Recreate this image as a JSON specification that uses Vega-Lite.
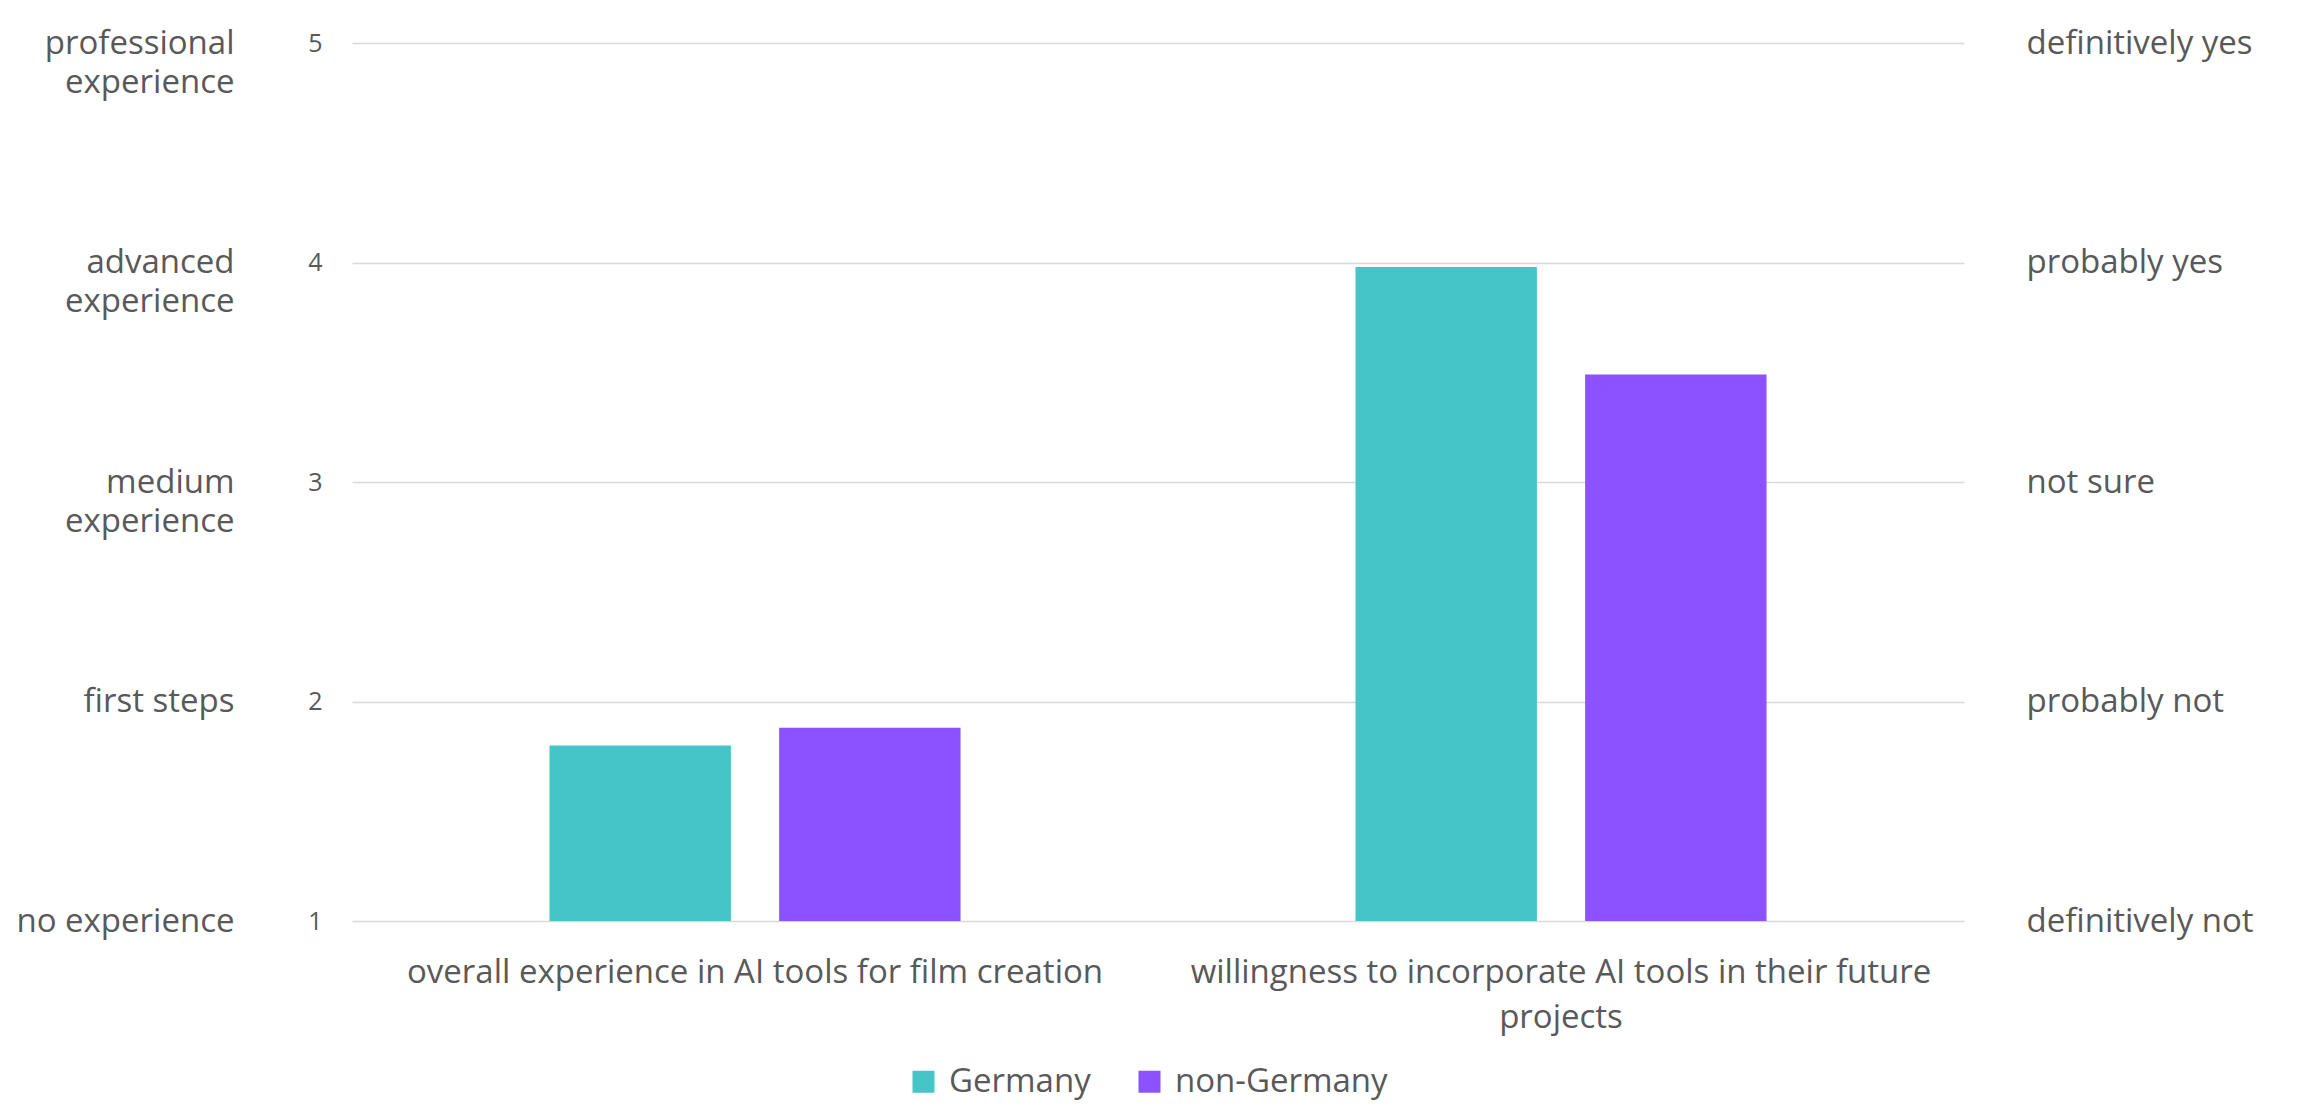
{
  "$schema": "https://vega.github.io/schema/vega-lite/v6.json",
  "width": 1612,
  "height": 878,
  "autosize": {"type": "none"},
  "padding": {"left": 352, "top": 43, "right": 339, "bottom": 185},
  "background": "white",
  "config": {
    "font": "Open Sans",
    "view": {"stroke": null}
  },
  "datasets": {
    "bars": [
      {"item": "overall experience in AI tools for film creation", "group": "Germany", "score": 1.8},
      {"item": "overall experience in AI tools for film creation", "group": "non-Germany", "score": 1.88},
      {"item": "willingness to incorporate AI tools in their future projects", "group": "Germany", "score": 3.98},
      {"item": "willingness to incorporate AI tools in their future projects", "group": "non-Germany", "score": 3.49}
    ],
    "levels": [
      {"level": 1, "experience": "no experience", "willingness": "definitively not"},
      {"level": 2, "experience": "first steps", "willingness": "probably not"},
      {"level": 3, "experience": "medium experience", "willingness": "not sure"},
      {"level": 4, "experience": "advanced experience", "willingness": "probably yes"},
      {"level": 5, "experience": "professional experience", "willingness": "definitively yes"}
    ]
  },
  "layer": [
    {
      "data": {"name": "bars"},
      "mark": {"type": "bar"},
      "encoding": {
        "x": {
          "field": "item",
          "type": "nominal",
          "sort": null,
          "scale": {"paddingInner": 0.49, "paddingOuter": 0.245},
          "axis": {
            "title": null,
            "labelAngle": 0,
            "labelFontSize": 33,
            "labelColor": "#595959",
            "labelPadding": 35,
            "labelLineHeight": 45,
            "labelLimit": 0,
            "ticks": false,
            "domain": false,
            "labelExpr": "length(datum.label) > 50 ? [slice(datum.label, 0, lastindexof(datum.label, ' ')), slice(datum.label, lastindexof(datum.label, ' ') + 1)] : datum.label"
          }
        },
        "xOffset": {
          "field": "group",
          "type": "nominal",
          "sort": ["Germany", "non-Germany"],
          "scale": {"paddingInner": 0.21}
        },
        "y": {
          "field": "score",
          "type": "quantitative",
          "scale": {"domain": [1, 5], "nice": false, "zero": false},
          "axis": {
            "orient": "left",
            "values": [1, 2, 3, 4, 5],
            "format": "d",
            "title": null,
            "grid": true,
            "gridColor": "#d9d9d9",
            "gridWidth": 1.5,
            "domain": false,
            "ticks": false,
            "labelPadding": 30,
            "labelFontSize": 25,
            "labelColor": "#595959"
          }
        },
        "y2": {"datum": 1},
        "color": {
          "field": "group",
          "type": "nominal",
          "scale": {"domain": ["Germany", "non-Germany"], "range": ["#46C5C8", "#8C52FF"]},
          "legend": {
            "title": null,
            "orient": "none",
            "legendX": 555,
            "legendY": 1022,
            "direction": "horizontal",
            "symbolType": "square",
            "symbolSize": 484,
            "symbolStrokeWidth": 0,
            "labelFontSize": 33,
            "labelColor": "#595959",
            "labelLimit": 0,
            "labelOffset": 9,
            "columnPadding": 42
          }
        }
      }
    },
    {
      "data": {"name": "levels"},
      "mark": {"type": "point", "opacity": 0},
      "encoding": {
        "y": {
          "field": "experience",
          "type": "nominal",
          "sort": ["professional experience", "advanced experience", "medium experience", "first steps", "no experience"],
          "scale": {"type": "point", "padding": 0},
          "axis": {
            "orient": "left",
            "title": null,
            "grid": false,
            "domain": false,
            "ticks": false,
            "labelPadding": 118,
            "labelFontSize": 33,
            "labelColor": "#595959",
            "labelLineHeight": 39,
            "labelAlign": "right",
            "labelBaseline": "middle",
            "labelLimit": 0,
            "labelExpr": "length(datum.label) > 13 ? split(datum.label, ' ') : datum.label"
          }
        }
      }
    },
    {
      "data": {"name": "levels"},
      "mark": {"type": "point", "opacity": 0},
      "encoding": {
        "y": {
          "field": "willingness",
          "type": "nominal",
          "sort": ["definitively yes", "probably yes", "not sure", "probably not", "definitively not"],
          "scale": {"type": "point", "padding": 0},
          "axis": {
            "orient": "right",
            "title": null,
            "grid": false,
            "domain": false,
            "ticks": false,
            "labelPadding": 62,
            "labelFontSize": 33,
            "labelColor": "#595959",
            "labelAlign": "left",
            "labelBaseline": "middle",
            "labelLimit": 0
          }
        }
      }
    }
  ],
  "resolve": {"scale": {"y": "independent"}, "axis": {"y": "independent"}}
}
